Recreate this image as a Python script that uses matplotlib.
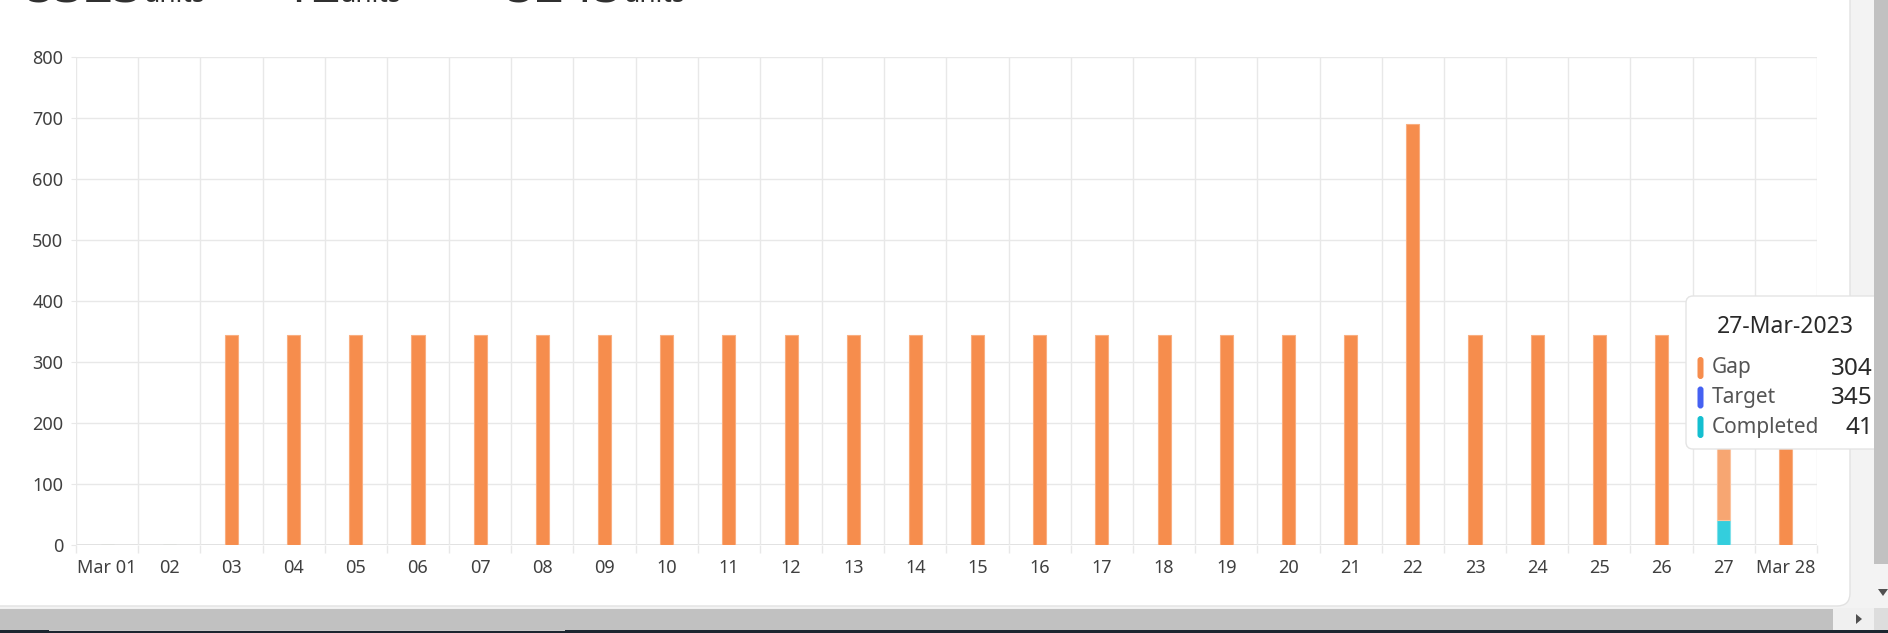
import matplotlib.pyplot as plt
from matplotlib.patches import FancyBboxPatch, Rectangle, Polygon
from matplotlib.ticker import FixedLocator

W, H = 1888, 633

days = ['Mar 01', '02', '03', '04', '05', '06', '07', '08', '09', '10',
        '11', '12', '13', '14', '15', '16', '17', '18', '19', '20',
        '21', '22', '23', '24', '25', '26', '27', 'Mar 28']
gap = [0, 0] + [345] * 19 + [690] + [345] * 4 + [304, 345]
completed = [0] * 26 + [41, 0]
target = [0, 0] + [345] * 19 + [690] + [345] * 4 + [345, 345]

header_values = ['5323', '12', '5245']
hover = 26
hover_date = '27-Mar-2023'

ORANGE = '#F68D4D'
ORANGE_HOVER = '#F7A672'
CYAN = '#14BFD0'
CYAN_HOVER = '#33CEDD'
BLUE = '#4561F2'
GRID = '#E8E8E8'
TEXT = '#404040'

plt.rcParams['font.family'] = ['Noto Sans', 'DejaVu Sans']


def px_axes(fig, z):
    # overlay axes in screen pixels, origin top-left
    a = fig.add_axes([0, 0, 1, 1], zorder=z)
    a.set_xlim(0, W)
    a.set_ylim(H, 0)
    a.axis('off')
    a.patch.set_alpha(0)
    return a


fig = plt.figure(figsize=(W / 100, H / 100), dpi=100)
fig.patch.set_facecolor('#F3F3F3')

bg = px_axes(fig, 0)
# white card
bg.add_patch(FancyBboxPatch((-20, -30), 1870, 636, boxstyle='round,pad=0,rounding_size=13',
                            fc='white', ec='#E2E2E2', lw=1))

# header numbers, cut off by the top of the screenshot
xs = [26, 282, 506]
for x, v in zip(xs, header_values):
    bg.text(x, 2.5, v, fontsize=37, fontweight='bold', color='#303030', va='baseline')
    bg.text(x + 30 * len(v) - 2, 2, 'units', fontsize=19, fontweight='bold', color='#303030',
            va='baseline')

ax = fig.add_axes([76 / W, 1 - 545 / H, (1817 - 76) / W, (545 - 57) / H], zorder=1)
ax.patch.set_alpha(0)

x = list(range(len(days)))
gap_colors = [ORANGE_HOVER if i == hover else ORANGE for i in x]
comp_colors = [CYAN_HOVER if i == hover else CYAN for i in x]
edge = ['#FBC39F' if i == hover else '#F9AE80' for i in x]

ax.bar(x, completed, width=0.21, color=comp_colors, edgecolor='#7FE0EA', linewidth=0.8, zorder=3)
ax.bar(x, gap, width=0.21, bottom=completed, color=gap_colors, edgecolor=edge, linewidth=0.8,
       zorder=3)

ax.set_xlim(-0.5, len(days) - 0.5)
ax.set_ylim(0, 800)
ax.set_yticks(range(0, 801, 100))
ax.set_xticks(x)
ax.set_xticklabels(days)
ax.xaxis.set_minor_locator(FixedLocator([i - 0.5 for i in range(len(days) + 1)]))

for s in ax.spines.values():
    s.set_visible(False)

ax.grid(True, axis='y', color=GRID, lw=1, zorder=0)
ax.grid(True, axis='x', which='minor', color=GRID, lw=1, zorder=0)
ax.axhline(0, color='#DCDCDC', lw=1.2, zorder=1)

ax.tick_params(axis='y', length=3.6, color=GRID, pad=5.5, labelsize=13, labelcolor=TEXT)
ax.tick_params(axis='x', which='major', length=0, pad=10, labelsize=13, labelcolor=TEXT)
ax.tick_params(axis='x', which='minor', length=6, color=GRID, width=1)

fg = px_axes(fig, 3)
# tooltip
fg.add_patch(FancyBboxPatch((1686, 296), 200, 153, boxstyle='round,pad=0,rounding_size=7',
                            fc='white', ec='#E4E4E4', lw=1))
fg.text(1785, 327, hover_date, fontsize=16.5, color='#2A2A2A', ha='center', va='center')
rows = [('Gap', gap[hover], ORANGE), ('Target', target[hover], BLUE),
        ('Completed', completed[hover], CYAN)]
for k, (name, val, c) in enumerate(rows):
    y = 368 + k * 29.5
    fg.add_patch(FancyBboxPatch((1697.5, y - 11), 6, 22, boxstyle='round,pad=0,rounding_size=3',
                                fc=c, ec='none'))
    fg.text(1712, y, name, fontsize=15, color='#555555', va='center')
    fg.text(1873, y + 1, str(val), fontsize=17.5, color='#2A2A2A', va='center', ha='right')

# scroll bars
fg.add_patch(Rectangle((1874, 0), 14, 564, fc='#C1C1C1', ec='none'))
fg.add_patch(Rectangle((1852, 564), 36, 41, fc='#F3F3F3', ec='none'))
fg.add_patch(Polygon([(1878, 589), (1888, 589), (1883, 596)], fc='#505050', ec='none'))
fg.add_patch(Rectangle((0, 608), W, 22, fc='#F0F0F0', ec='none'))
fg.add_patch(Rectangle((0, 609), 1833, 21, fc='#C1C1C1', ec='none'))
fg.add_patch(Polygon([(1856, 614), (1856, 624), (1862, 619)], fc='#505050', ec='none'))
fg.add_patch(Rectangle((1874, 608), 14, 22, fc='#DDDDDD', ec='none'))
fg.add_patch(Rectangle((0, 630), W, 3, fc='#1C2630', ec='none'))
fg.add_patch(Rectangle((49, 630), 516, 1, fc='#C8C8C8', ec='none'))

fig.savefig('out.png', dpi=100, facecolor=fig.get_facecolor())
